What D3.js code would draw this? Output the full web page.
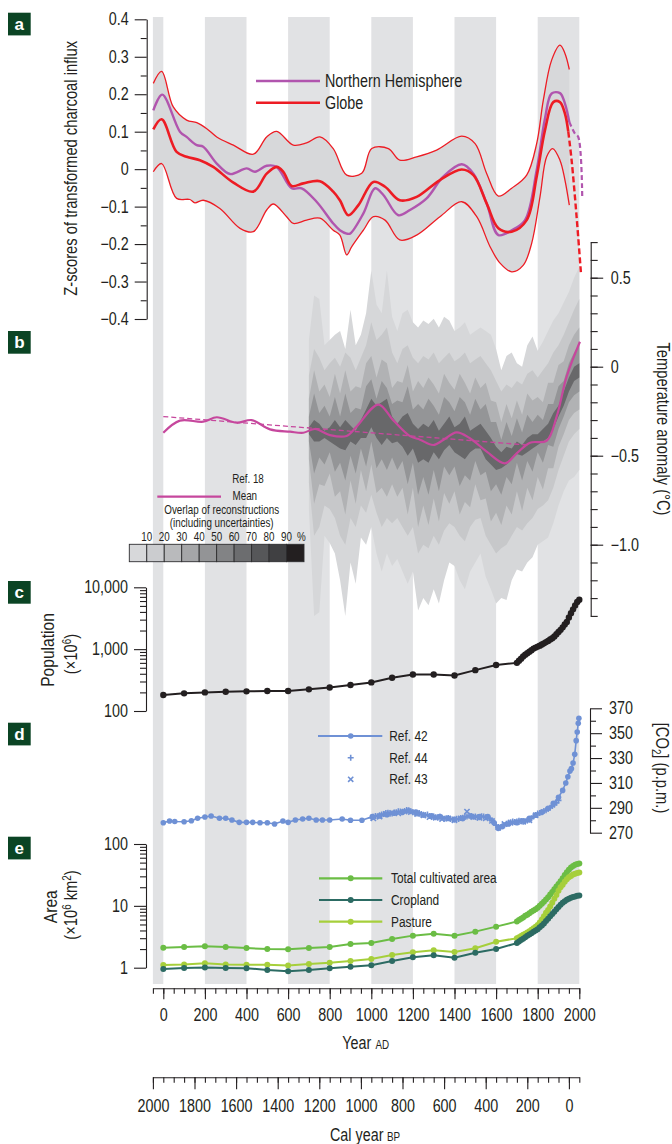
<!DOCTYPE html>
<html>
<head>
<meta charset="utf-8">
<script src="https://cdn.jsdelivr.net/npm/d3@7"></script>
<style>
  body { margin: 0; background: #fff; }
  svg text { font-family: "Liberation Sans", Arial, sans-serif; fill: #231f20; }
</style>
</head>
<body>
<svg id="chart" width="672" height="1144"></svg>
<script>
// ---------- data ----------
const stripeStarts = [-50, 200, 600, 1000, 1400, 1800];
const stripeEnds = [0, 400, 800, 1200, 1600, 2000];

// panel a: charcoal z-scores
const upperYears = [-48,-8,48,112,161,209,257,337,433,497,545,625,689,753,817,882,954,1002,1082,1137,1218,1314,1435,1499,1555,1611,1675,1747,1795,1827,1867,1907,1931,1952];
const upperZ = [0.229,0.261,0.166,0.131,0.124,0.108,0.086,0.064,0.04,0.086,0.101,0.064,0.07,0.086,0.055,-0.016,-0.011,0.055,0.055,0.024,0.033,0.051,0.088,0.068,-0.012,-0.072,-0.051,-0.016,0.068,0.184,0.291,0.331,0.309,0.266];
const lowerYears = [-48,-8,64,128,152,192,272,369,433,497,529,593,625,689,753,817,849,882,906,962,1010,1066,1137,1218,1330,1435,1507,1571,1619,1675,1731,1771,1811,1843,1872,1907,1931,1952];
const lowerZ = [-0.007,0.015,-0.078,-0.081,-0.09,-0.083,-0.105,-0.158,-0.167,-0.109,-0.093,-0.127,-0.145,-0.136,-0.131,-0.163,-0.176,-0.229,-0.207,-0.163,-0.127,-0.136,-0.189,-0.176,-0.127,-0.087,-0.127,-0.207,-0.251,-0.274,-0.256,-0.198,-0.074,0.033,0.055,0.024,-0.029,-0.096];
const globeYears = [-48,-8,64,112,176,240,337,433,497,545,577,617,673,753,817,849,890,938,1010,1066,1137,1218,1330,1435,1491,1555,1611,1675,1747,1795,1835,1875,1907,1931,1947];
const globeZ = [0.106,0.133,0.046,0.033,0.024,0.006,-0.036,-0.06,-0.012,0.006,-0.007,-0.045,-0.038,-0.032,-0.06,-0.083,-0.123,-0.096,-0.034,-0.047,-0.083,-0.074,-0.029,-0.001,-0.016,-0.092,-0.158,-0.167,-0.136,-0.02,0.104,0.179,0.179,0.148,0.1];
const globeDashYears = [1947, 1963, 1987, 2008];
const globeDashZ = [0.1, 0.024, -0.127, -0.278];
const nhYears = [-48,-5,80,112,161,192,257,321,401,441,497,545,617,665,737,817,849,882,898,962,1018,1058,1130,1186,1266,1346,1435,1491,1555,1611,1675,1739,1795,1835,1867,1907,1931,1952];
const nhZ = [0.157,0.199,0.1,0.086,0.064,0.06,0.015,-0.013,0.002,-0.007,0.009,0.006,-0.051,-0.051,-0.087,-0.145,-0.163,-0.172,-0.172,-0.118,-0.051,-0.069,-0.123,-0.109,-0.078,-0.02,0.013,-0.012,-0.092,-0.176,-0.163,-0.136,-0.003,0.135,0.202,0.203,0.175,0.126];
const nhDashYears = [1952, 1979, 1995, 2014];
const nhDashZ = [0.126, 0.095, 0.086, -0.074];

// panel b: temperature reconstructions (overlap levels, lightest to darkest)
const densityYears = [700,725,750,775,800,825,850,875,900,925,950,975,1000,1025,1050,1075,1100,1125,1150,1175,1200,1225,1250,1275,1300,1325,1350,1375,1400,1425,1450,1475,1500,1525,1550,1575,1600,1625,1650,1675,1700,1725,1750,1775,1800,1825,1850,1875,1900,1925,1950,1975,2000];
const b10Upper = [0.15,0.40,0.38,0.12,0.15,0.18,0.20,0.10,0.32,0.12,0.18,0.30,0.54,0.35,0.30,0.54,0.28,0.20,0.30,0.32,0.25,0.22,0.26,0.24,0.27,0.22,0.28,0.26,0.20,0.22,0.25,0.18,0.20,0.22,0.20,0.18,0.10,-0.02,0.06,0.08,0.02,0.00,0.12,0.17,0.09,0.14,0.20,0.26,0.30,0.36,0.42,0.50,0.56];
const b10Lower = [-0.80,-1.40,-1.38,-0.95,-0.99,-1.05,-1.20,-1.40,-1.10,-1.22,-0.96,-1.00,-0.90,-1.05,-1.15,-1.05,-1.12,-1.08,-1.15,-1.22,-1.15,-1.37,-1.30,-1.34,-1.25,-1.33,-1.20,-1.10,-1.12,-1.20,-1.25,-1.15,-1.10,-1.05,-1.18,-1.25,-1.33,-1.30,-1.31,-1.20,-1.14,-1.15,-1.10,-1.07,-1.00,-0.98,-0.96,-0.88,-0.78,-0.70,-0.64,-0.62,-0.58];
const b30Upper = [-0.05,0.10,0.05,-0.02,0.02,0.05,0.00,0.08,0.05,-0.02,0.05,0.12,0.25,0.15,0.18,0.22,0.08,0.02,0.10,0.12,0.05,0.02,0.06,0.04,0.08,0.02,0.05,0.08,0.03,0.05,0.08,0.02,0.04,0.06,0.02,-0.02,-0.08,-0.14,-0.10,-0.12,-0.08,-0.10,-0.04,-0.02,-0.06,-0.02,0.02,0.08,0.12,0.18,0.25,0.32,0.38];
const b30Lower = [-0.65,-0.95,-0.90,-0.78,-0.80,-0.85,-0.95,-1.00,-0.85,-0.90,-0.78,-0.82,-0.72,-0.82,-0.90,-0.85,-0.88,-0.85,-0.90,-0.95,-0.90,-1.05,-1.00,-1.02,-0.95,-1.00,-0.92,-0.88,-0.90,-0.95,-0.98,-0.90,-0.86,-0.85,-0.95,-1.00,-1.05,-1.02,-1.00,-0.95,-0.90,-0.92,-0.88,-0.85,-0.80,-0.78,-0.75,-0.68,-0.58,-0.50,-0.42,-0.38,-0.35];
const b50Upper = [-0.18,-0.02,-0.14,-0.10,-0.17,-0.04,-0.15,-0.02,-0.14,-0.11,-0.12,0.02,0.06,-0.06,0.04,0.02,-0.12,-0.08,-0.09,0.01,-0.14,-0.08,-0.12,-0.06,-0.10,-0.15,-0.04,-0.09,-0.13,-0.04,-0.09,-0.15,-0.06,-0.12,-0.09,-0.19,-0.20,-0.31,-0.21,-0.29,-0.19,-0.27,-0.15,-0.19,-0.17,-0.20,-0.09,-0.09,0.01,0.03,0.12,0.18,0.22];
const b50Lower = [-0.52,-0.77,-0.66,-0.67,-0.60,-0.73,-0.70,-0.83,-0.64,-0.77,-0.58,-0.70,-0.55,-0.71,-0.68,-0.73,-0.66,-0.73,-0.68,-0.83,-0.68,-0.90,-0.78,-0.89,-0.74,-0.87,-0.71,-0.77,-0.70,-0.83,-0.76,-0.79,-0.66,-0.75,-0.74,-0.87,-0.82,-0.89,-0.78,-0.83,-0.70,-0.81,-0.68,-0.75,-0.62,-0.69,-0.57,-0.57,-0.45,-0.38,-0.30,-0.26,-0.24];
const b70Upper = [-0.28,-0.15,-0.26,-0.22,-0.28,-0.17,-0.28,-0.15,-0.26,-0.23,-0.24,-0.11,-0.07,-0.18,-0.08,-0.12,-0.21,-0.19,-0.20,-0.11,-0.24,-0.21,-0.24,-0.18,-0.22,-0.27,-0.17,-0.20,-0.25,-0.17,-0.20,-0.27,-0.18,-0.24,-0.21,-0.31,-0.31,-0.41,-0.31,-0.39,-0.29,-0.37,-0.27,-0.31,-0.27,-0.30,-0.21,-0.21,-0.11,-0.08,0.02,0.08,0.12];
const b70Lower = [-0.42,-0.60,-0.51,-0.55,-0.48,-0.59,-0.54,-0.64,-0.50,-0.60,-0.46,-0.56,-0.42,-0.57,-0.52,-0.58,-0.51,-0.58,-0.53,-0.66,-0.54,-0.72,-0.62,-0.72,-0.58,-0.70,-0.56,-0.61,-0.56,-0.67,-0.61,-0.64,-0.53,-0.61,-0.59,-0.70,-0.66,-0.72,-0.62,-0.66,-0.54,-0.64,-0.53,-0.59,-0.48,-0.54,-0.44,-0.45,-0.35,-0.28,-0.20,-0.16,-0.14];
const b90Upper = [-0.34,-0.30,-0.32,-0.36,-0.34,-0.30,-0.34,-0.30,-0.33,-0.36,-0.30,-0.24,-0.18,-0.22,-0.20,-0.18,-0.28,-0.32,-0.28,-0.26,-0.32,-0.35,-0.32,-0.34,-0.30,-0.36,-0.32,-0.28,-0.34,-0.32,-0.28,-0.36,-0.34,-0.32,-0.36,-0.40,-0.45,-0.48,-0.45,-0.46,-0.42,-0.44,-0.40,-0.38,-0.38,-0.35,-0.32,-0.26,-0.22,-0.14,-0.06,0.00,0.02];
const b90Lower = [-0.38,-0.42,-0.42,-0.40,-0.42,-0.44,-0.46,-0.47,-0.42,-0.44,-0.40,-0.40,-0.34,-0.40,-0.44,-0.40,-0.43,-0.42,-0.45,-0.50,-0.46,-0.54,-0.52,-0.54,-0.48,-0.52,-0.47,-0.44,-0.48,-0.50,-0.52,-0.48,-0.46,-0.46,-0.52,-0.55,-0.58,-0.57,-0.55,-0.52,-0.49,-0.50,-0.48,-0.46,-0.44,-0.42,-0.40,-0.35,-0.28,-0.22,-0.14,-0.08,-0.06];
const meanYears = [0,80,192,257,353,425,513,609,673,729,801,881,929,1034,1105,1186,1234,1298,1346,1410,1474,1555,1643,1699,1763,1843,1891,1939,2003];
const meanT = [-0.371,-0.303,-0.309,-0.284,-0.315,-0.3,-0.352,-0.365,-0.371,-0.35,-0.384,-0.389,-0.337,-0.213,-0.3,-0.39,-0.41,-0.44,-0.412,-0.369,-0.402,-0.477,-0.543,-0.487,-0.427,-0.416,-0.281,-0.056,0.14];
const trendYears = [0, 1750];
const trendT = [-0.28, -0.44];
const overlapLabels = ["10","20","30","40","50","60","70","80","90","%"];
const overlapColors = ["#d7d8da","#cbcccf","#b9babc","#a5a6a8","#939496","#828385","#6c6d6f","#565759","#404042","#231f20"];

// panels c and e share these years
const histYears = [0,100,200,300,400,500,600,700,800,900,1000,1100,1200,1300,1400,1500,1600,1700,1710,1720,1730,1740,1750,1760,1770,1780,1790,1800,1810,1820,1830,1840,1850,1860,1870,1880,1890,1900,1910,1920,1930,1940,1950,1960,1970,1980,1990,2000];
const population = [181,193,200,205,208,210,210,224,240,263,290,344,390,390,375,458,554,600,650,700,760,810,860,910,960,1020,1060,1100,1140,1190,1240,1300,1360,1430,1500,1600,1740,1900,2050,2250,2500,2750,3250,3800,4400,5100,5800,6300];
const totalArea = [2.11,2.16,2.22,2.16,2.08,2.0,1.98,2.08,2.16,2.42,2.51,2.91,3.30,3.55,3.30,3.83,4.61,5.6,5.9,6.2,6.5,6.9,7.2,7.6,8.0,8.4,8.8,9.3,10.0,10.8,11.7,12.7,13.8,15.2,16.8,18.6,20.5,22.5,25,28,31.5,35,38.5,41.5,44,46,47.5,48.5];
const croplandArea = [0.95,0.99,1.01,0.99,0.98,0.92,0.88,0.92,0.98,1.04,1.1,1.28,1.47,1.59,1.45,1.75,2.0,2.5,2.65,2.8,2.95,3.1,3.3,3.45,3.6,3.8,4.0,4.2,4.5,4.8,5.2,5.7,6.2,6.8,7.4,8.0,8.8,9.6,10.4,11.2,11.9,12.5,13.0,13.5,13.9,14.2,14.5,14.7];
const pastureArea = [1.11,1.13,1.18,1.13,1.12,1.12,1.09,1.15,1.2,1.28,1.38,1.6,1.77,1.91,1.79,2.06,2.63,3.0,3.1,3.25,3.4,3.55,3.7,3.9,4.1,4.35,4.6,4.9,5.4,6.0,6.8,7.7,8.6,9.8,11.2,13,15,17.5,20,22,24.5,27,29,30.5,32,33,34,34.5];

// panel d: CO2
const ref42Years = [0,30,55,100,135,165,200,230,270,300,330,365,400,430,465,500,535,575,600,635,670,700,735,765,800,860,900,955,1005,1040,1075,1110,1150,1180,1215,1250,1290,1330,1370,1400,1440,1480,1520,1560,1590,1610,1630,1660,1700,1730,1760,1790,1820,1850,1875,1900,1920,1935,1945,1955,1962,1970,1978,1985,1990,1995,1998];
const ref42Ppm = [278,279.4,279,278.8,279.6,281.6,282.6,283.4,281.6,281.6,280.2,278.3,278.3,278.3,278,278,277,279.4,278.3,280.2,281,281.6,280.2,280.2,280.2,281,280,280,282.9,283.5,284.5,285.6,286.5,287.7,286.5,284.2,283.5,282.9,281.5,280.8,281.5,283.4,283,282.9,278,273.5,275,277,278,279.6,281.5,284,286.5,289.6,293.6,298.5,304,310,315,319.5,321.5,326,333,344,351,358,362];
const ref44Years = [1000,1010,1020,1030,1040,1050,1060,1070,1080,1090,1100,1110,1120,1130,1140,1150,1160,1170,1180,1190,1200,1210,1220,1230,1240,1250,1260,1270,1280,1290,1300,1310,1320,1330,1340,1350,1360,1370,1380,1390,1400,1410,1420,1430,1440,1450,1460,1470,1480,1490,1500,1510,1520,1530,1540,1550,1560,1570,1580,1590,1600,1610,1620,1630,1640,1650,1660,1670,1680,1690,1700,1710,1720,1730,1740,1750,1760,1770,1780,1790,1800,1810,1820,1830,1840,1850,1860,1870,1880,1890,1900];
const ref44Ppm = [282,282.8,283.5,283,284,284.6,285,285.8,286,285.2,285.5,286.3,286.5,287.2,287,286.4,287.5,288.2,288,287.3,286.5,286,285.5,285.9,285,284.4,284,284.6,283.5,283.1,283,282.4,282.5,282.9,282,281.3,281.5,281.9,281,280.6,280.5,281.2,281,281.8,282,282.7,283,283.6,283.5,282.8,283,282.3,282.5,283.2,283,282.4,282,281.2,280,278.2,276,274.6,274,275.2,276,277.1,278,278.4,279,278.6,279,279.7,279.5,278.8,279,279.8,280.5,281.6,283,284.2,285.5,285.8,286.5,287.4,288,289,290,291.4,292.5,294,296];
const ref43Years = [1010,1040,1070,1100,1130,1160,1190,1220,1250,1280,1310,1340,1370,1400,1430,1460,1490,1520,1550,1580,1610,1640,1670,1700,1730,1760,1790];
const ref43Ppm = [281.5,283,285,286,285.5,287,286.5,285,284,282.5,282,281,281.5,280,281.5,287,282.5,282,281.5,279.5,274.5,277,278,278.5,279,280,284];

// ---------- setup ----------
const INK = "#231f20";
const RED = "#ed1c24";
const NH = "#b155ae";
const MAGENTA = "#c6479d";
const BLUE = "#6f91d5";
const TOTAL = "#6bbd45";
const CROP = "#2c6b63";
const PASTURE = "#a6cf3b";
const SQUEEZE = 0.82;

const svg = d3.select("#chart");

const x = d3.scaleLinear().domain([-50, 2000]).range([152.9, 579.3]);
const xBP = d3.scaleLinear().domain([2000, -50]).range([152.9, 579.3]);
const yA = d3.scaleLinear().domain([-0.4, 0.4]).range([319, 19.3]);
const yB = d3.scaleLinear().domain([-1.4, 0.7]).range([615.9, 242.1]);
const yC = d3.scaleLog().domain([100, 10000]).range([711, 587.3]);
const yD = d3.scaleLinear().domain([270, 370]).range([832.7, 708.3]);
const yE = d3.scaleLog().domain([1, 100]).range([967.7, 844]);

const styleAxis = (g, size) => {
  g.attr("font-family", null).attr("font-size", null);
  g.selectAll("path.domain").attr("stroke", INK).attr("stroke-width", 1.1);
  g.selectAll("line").attr("stroke", INK).attr("stroke-width", 1.1);
  g.selectAll("text").attr("fill", INK).style("font-size", size + "px");
};

// background stripes
svg.append("g").selectAll("rect")
  .data(stripeStarts)
  .join("rect")
    .attr("x", d => x(d))
    .attr("width", (d, i) => x(stripeEnds[i]) - x(d))
    .attr("y", 17)
    .attr("height", 967)
    .attr("fill", "#e1e2e4");

// ---------- panel b density ----------
const bands = [
  [b10Upper, b10Lower, "#d6d7d9"],
  [b30Upper, b30Lower, "#c7c8ca"],
  [b50Upper, b50Lower, "#b1b2b4"],
  [b70Upper, b70Lower, "#949597"],
  [b90Upper, b90Lower, "#68686a"]
];
const densG = svg.append("g");
bands.forEach(([up, lo, color]) => {
  const area = d3.area()
    .x((d, i) => x(densityYears[i]))
    .y0((d, i) => yB(lo[i]))
    .y1((d, i) => yB(up[i]));
  densG.append("path").attr("d", area(densityYears)).attr("fill", color);
});

// ---------- panel a ----------
const lineA = d3.line().curve(d3.curveCatmullRom.alpha(0.5)).x(d => x(d[0])).y(d => yA(d[1]));
const upPts = d3.zip(upperYears, upperZ);
const loPts = d3.zip(lowerYears, lowerZ);
const loRev = loPts.slice().reverse();
svg.append("path")
  .attr("d", lineA(upPts) + "L" + lineA(loRev).slice(1) + "Z")
  .attr("fill", "#d7d8da");
svg.append("path").attr("d", lineA(upPts)).attr("fill", "none").attr("stroke", RED).attr("stroke-width", 1.3);
svg.append("path").attr("d", lineA(loPts)).attr("fill", "none").attr("stroke", RED).attr("stroke-width", 1.3);
svg.append("path").attr("d", lineA(d3.zip(nhYears, nhZ))).attr("fill", "none").attr("stroke", NH).attr("stroke-width", 2.4);
svg.append("path").attr("d", lineA(d3.zip(nhDashYears, nhDashZ))).attr("fill", "none").attr("stroke", NH).attr("stroke-width", 2.2).attr("stroke-dasharray", "5,3");
svg.append("path").attr("d", lineA(d3.zip(globeYears, globeZ))).attr("fill", "none").attr("stroke", RED).attr("stroke-width", 2.6);
svg.append("path").attr("d", lineA(d3.zip(globeDashYears, globeDashZ))).attr("fill", "none").attr("stroke", RED).attr("stroke-width", 2.4).attr("stroke-dasharray", "6,3");

// legend a
const legA = [["Northern Hemisphere", NH, 81], ["Globe", RED, 102.7]];
legA.forEach(([label, color, ly]) => {
  svg.append("line").attr("x1", 256).attr("x2", 320).attr("y1", ly).attr("y2", ly)
    .attr("stroke", color).attr("stroke-width", 2.4);
  svg.append("text").attr("x", 325).attr("y", ly + 6.3).style("font-size", "17.5px").text(label);
});

// axis a
const fmtA = d => d === 0 ? "0" : d3.format(".1f")(d).replace("-", "\u2212");
svg.append("g").attr("transform", "translate(146.7,0)")
  .call(d3.axisLeft(yA).tickValues([-0.4,-0.3,-0.2,-0.1,0,0.1,0.2,0.3,0.4]).tickSize(12).tickSizeOuter(0).tickPadding(6).tickFormat(fmtA))
  .call(g => styleAxis(g, 17.5));
svg.append("g").attr("transform", "translate(146.7,0)")
  .call(d3.axisLeft(yA).tickValues([-0.35,-0.25,-0.15,-0.05,0.05,0.15,0.25,0.35]).tickSize(6).tickFormat(""))
  .call(g => { styleAxis(g, 10); g.select(".domain").remove(); });
svg.append("text")
  .attr("transform", "translate(76.5,168.3) rotate(-90)")
  .attr("text-anchor", "middle").style("font-size", "18px")
  .text("Z-scores of transformed charcoal influx");

// ---------- panel b lines ----------
const lineB = d3.line().curve(d3.curveCatmullRom.alpha(0.5)).x(d => x(d[0])).y(d => yB(d[1]));
svg.append("path").attr("d", lineB(d3.zip(trendYears, trendT))).attr("fill", "none")
  .attr("stroke", MAGENTA).attr("stroke-width", 1.3).attr("stroke-dasharray", "5,3");
svg.append("path").attr("d", lineB(d3.zip(meanYears, meanT))).attr("fill", "none")
  .attr("stroke", MAGENTA).attr("stroke-width", 2.2);

// axis b (right)
const fmtB = d => d === 0 ? "0" : d3.format(".1f")(d).replace("-", "\u2212");
svg.append("g").attr("transform", "translate(590.7,0)")
  .call(d3.axisRight(yB).tickValues([0.5, 0, -0.5, -1.0]).tickSize(12.5).tickSizeOuter(0).tickPadding(7.5).tickFormat(fmtB))
  .call(g => styleAxis(g, 17.5));
svg.append("g").attr("transform", "translate(590.7,0)")
  .call(d3.axisRight(yB).tickValues(d3.range(-14, 8).map(d => d / 10)).tickSize(7).tickFormat(""))
  .call(g => { styleAxis(g, 10); g.select(".domain").remove(); });
svg.append("text")
  .attr("transform", "translate(657,429) rotate(90)")
  .attr("text-anchor", "middle").style("font-size", "18px")
  .text("Temperature anomaly (\u00b0C)");

// legend b
svg.append("text").attr("x", 248).attr("y", 483.3).attr("text-anchor", "middle").style("font-size", "12px").text("Ref. 18");
svg.append("line").attr("x1", 157.3).attr("x2", 221).attr("y1", 496.7).attr("y2", 496.7)
  .attr("stroke", MAGENTA).attr("stroke-width", 2.2);
svg.append("text").attr("x", 232.5).attr("y", 500.3).style("font-size", "12px").text("Mean");
svg.append("text").attr("x", 221.7).attr("y", 513.6).attr("text-anchor", "middle").style("font-size", "12px").text("Overlap of reconstructions");
svg.append("text").attr("x", 221.7).attr("y", 527.5).attr("text-anchor", "middle").style("font-size", "12px").text("(including uncertainties)");
const boxW = (304 - 129.3) / overlapColors.length;
svg.append("g").selectAll("rect")
  .data(overlapColors)
  .join("rect")
    .attr("x", (d, i) => 129.3 + i * boxW)
    .attr("y", 544.3)
    .attr("width", boxW)
    .attr("height", 17.4)
    .attr("fill", d => d)
    .attr("stroke", "#2d2d2f")
    .attr("stroke-width", 0.9);
svg.append("g").selectAll("text")
  .data(overlapLabels)
  .join("text")
    .attr("x", (d, i) => d === "%" ? 301.5 : 129.3 + (i + 1) * boxW)
    .attr("y", 541.5)
    .attr("text-anchor", "middle")
    .style("font-size", "12px")
    .text(d => d);

// ---------- panel c ----------
const lineC = d3.line().x((d, i) => x(histYears[i])).y(d => yC(d));
svg.append("path").attr("d", lineC(population)).attr("fill", "none").attr("stroke", INK).attr("stroke-width", 2);
svg.append("g").selectAll("circle")
  .data(population)
  .join("circle")
    .attr("cx", (d, i) => x(histYears[i]))
    .attr("cy", d => yC(d))
    .attr("r", 3.2)
    .attr("fill", INK);

const logMinor = (lo, hi) => {
  const out = [];
  for (let p = lo; p < hi; p *= 10) for (let k = 2; k <= 9; k++) out.push(p * k);
  return out;
};
svg.append("g").attr("transform", "translate(146,0)")
  .call(d3.axisLeft(yC).tickValues([100, 1000, 10000]).tickSize(12).tickSizeOuter(0).tickPadding(6).tickFormat(d3.format(",")))
  .call(g => styleAxis(g, 17.5));
svg.append("g").attr("transform", "translate(146,0)")
  .call(d3.axisLeft(yC).tickValues(logMinor(100, 10000)).tickSize(6).tickFormat(""))
  .call(g => { styleAxis(g, 10); g.select(".domain").remove(); });
svg.append("text")
  .attr("transform", "translate(53.5,650) rotate(-90)")
  .attr("text-anchor", "middle").style("font-size", "19px").text("Population");
const popUnit = svg.append("text")
  .attr("transform", "translate(76.5,654) rotate(-90)")
  .attr("text-anchor", "middle").style("font-size", "18px");
popUnit.append("tspan").text("(\u00d710");
popUnit.append("tspan").attr("dy", -6).style("font-size", "12px").text("6");
popUnit.append("tspan").attr("dy", 6).text(")");

// ---------- panel d ----------
const lineD = d3.line().x(d => x(d[0])).y(d => yD(d[1]));
const plusPath = "M-3,0H3M0,-3V3";
const crossPath = "M-2.6,-2.6L2.6,2.6M-2.6,2.6L2.6,-2.6";
svg.append("g").selectAll("path")
  .data(d3.zip(ref44Years, ref44Ppm))
  .join("path")
    .attr("transform", d => `translate(${x(d[0])},${yD(d[1])})`)
    .attr("d", plusPath)
    .attr("stroke", BLUE).attr("stroke-width", 1.6);
svg.append("g").selectAll("path")
  .data(d3.zip(ref43Years, ref43Ppm))
  .join("path")
    .attr("transform", d => `translate(${x(d[0])},${yD(d[1])})`)
    .attr("d", crossPath)
    .attr("stroke", BLUE).attr("stroke-width", 1.6);
svg.append("path").attr("d", lineD(d3.zip(ref42Years, ref42Ppm))).attr("fill", "none")
  .attr("stroke", BLUE).attr("stroke-width", 1.6);
svg.append("g").selectAll("circle")
  .data(d3.zip(ref42Years, ref42Ppm))
  .join("circle")
    .attr("cx", d => x(d[0]))
    .attr("cy", d => yD(d[1]))
    .attr("r", 2.8)
    .attr("fill", BLUE);

svg.append("g").attr("transform", "translate(590,0)")
  .call(d3.axisRight(yD).tickValues([270, 290, 310, 330, 350, 370]).tickSize(12).tickSizeOuter(0).tickPadding(7).tickFormat(d3.format("d")))
  .call(g => styleAxis(g, 17.5));
svg.append("g").attr("transform", "translate(590,0)")
  .call(d3.axisRight(yD).tickValues([280, 300, 320, 340, 360]).tickSize(6).tickFormat(""))
  .call(g => { styleAxis(g, 10); g.select(".domain").remove(); });
const co2Label = svg.append("text")
  .attr("transform", "translate(656,768) rotate(90)")
  .attr("text-anchor", "middle").style("font-size", "18px");
co2Label.append("tspan").text("[CO");
co2Label.append("tspan").attr("dy", 4).style("font-size", "12px").text("2");
co2Label.append("tspan").attr("dy", -4).text("] (p.p.m.)");

// legend d
svg.append("line").attr("x1", 318).attr("x2", 382.3).attr("y1", 736).attr("y2", 736).attr("stroke", BLUE).attr("stroke-width", 1.8);
svg.append("circle").attr("cx", 350.7).attr("cy", 736).attr("r", 2.8).attr("fill", BLUE);
svg.append("path").attr("transform", "translate(350.7,757.7)").attr("d", plusPath).attr("stroke", BLUE).attr("stroke-width", 1.6);
svg.append("path").attr("transform", "translate(350.7,779.3)").attr("d", crossPath).attr("stroke", BLUE).attr("stroke-width", 1.6);
[["Ref. 42", 736], ["Ref. 44", 757.7], ["Ref. 43", 779.3]].forEach(([t, ly]) => {
  svg.append("text").attr("x", 389.3).attr("y", ly + 5.2).style("font-size", "14.5px").text(t);
});

// ---------- panel e ----------
const areaSeries = [
  [totalArea, TOTAL, "Total cultivated area", 878.3],
  [pastureArea, PASTURE, "Pasture", 921.7],
  [croplandArea, CROP, "Cropland", 900]
];
const lineE = d3.line().x((d, i) => x(histYears[i])).y(d => yE(d));
areaSeries.forEach(([vals, color, label, ly]) => {
  svg.append("path").attr("d", lineE(vals)).attr("fill", "none").attr("stroke", color).attr("stroke-width", 2);
  svg.append("g").selectAll("circle")
    .data(vals)
    .join("circle")
      .attr("cx", (d, i) => x(histYears[i]))
      .attr("cy", d => yE(d))
      .attr("r", 3)
      .attr("fill", color);
  svg.append("line").attr("x1", 319).attr("x2", 382.3).attr("y1", ly).attr("y2", ly).attr("stroke", color).attr("stroke-width", 2.2);
  svg.append("circle").attr("cx", 350.7).attr("cy", ly).attr("r", 3).attr("fill", color);
  svg.append("text").attr("x", 391).attr("y", ly + 5.2).style("font-size", "14.5px").text(label);
});

svg.append("g").attr("transform", "translate(146,0)")
  .call(d3.axisLeft(yE).tickValues([1, 10, 100]).tickSize(12).tickSizeOuter(0).tickPadding(6).tickFormat(d3.format("d")))
  .call(g => styleAxis(g, 17.5));
svg.append("g").attr("transform", "translate(146,0)")
  .call(d3.axisLeft(yE).tickValues(logMinor(1, 100)).tickSize(6).tickFormat(""))
  .call(g => { styleAxis(g, 10); g.select(".domain").remove(); });
svg.append("text")
  .attr("transform", "translate(56.5,906.7) rotate(-90)")
  .attr("text-anchor", "middle").style("font-size", "19px").text("Area");
const areaUnit = svg.append("text")
  .attr("transform", "translate(77,905) rotate(-90)")
  .attr("text-anchor", "middle").style("font-size", "18px");
areaUnit.append("tspan").text("(\u00d710");
areaUnit.append("tspan").attr("dy", -6).style("font-size", "12px").text("6");
areaUnit.append("tspan").attr("dy", 6).text(" km");
areaUnit.append("tspan").attr("dy", -6).style("font-size", "12px").text("2");
areaUnit.append("tspan").attr("dy", 6).text(")");

// ---------- bottom axes ----------
const adLabels = [0, 200, 400, 600, 800, 1000, 1200, 1400, 1600, 1800, 2000];
const bpLabels = [2000, 1800, 1600, 1400, 1200, 1000, 800, 600, 400, 200, 0];
const minorStep = d3.range(-50, 2001, 50);

svg.append("g").attr("transform", "translate(0,988.3)")
  .call(d3.axisBottom(x).tickValues(adLabels).tickSize(11).tickSizeOuter(0).tickPadding(9.5).tickFormat(d3.format("d")))
  .call(g => styleAxis(g, 17.5));
svg.append("g").attr("transform", "translate(0,988.3)")
  .call(d3.axisBottom(x).tickValues(minorStep).tickSize(5.5).tickFormat(""))
  .call(g => { styleAxis(g, 10); g.select(".domain").remove(); });
svg.append("text").attr("x", 342.3).attr("y", 1049.5).style("font-size", "17.5px").text("Year");
svg.append("text").attr("x", 375.5).attr("y", 1049.5).style("font-size", "12px").text("AD");

svg.append("g").attr("transform", "translate(0,1077.3)")
  .call(d3.axisBottom(xBP).tickValues(bpLabels).tickSize(12).tickSizeOuter(0).tickPadding(10.5).tickFormat(d3.format("d")))
  .call(g => styleAxis(g, 17.5));
svg.append("g").attr("transform", "translate(0,1077.3)")
  .call(d3.axisBottom(xBP).tickValues(minorStep).tickSize(5.5).tickFormat(""))
  .call(g => { styleAxis(g, 10); g.select(".domain").remove(); });
svg.append("text").attr("x", 330).attr("y", 1141).style("font-size", "17.5px").text("Cal year");
svg.append("text").attr("x", 387).attr("y", 1141).style("font-size", "12px").text("BP");

// condensed look: squeeze every text along its baseline (no narrow face installed)
svg.selectAll("text").each(function () {
  const t = d3.select(this);
  const x0 = +(t.attr("x") || 0);
  t.attr("x", x0 / SQUEEZE);
  const tr = t.attr("transform");
  t.attr("transform", (tr ? tr + " " : "") + `scale(${SQUEEZE},1)`);
});

// ---------- panel letters ----------
const panelLetters = ["a", "b", "c", "d", "e"];
const panelTops = [12.7, 331, 581, 722.7, 836.7];
const letterG = svg.append("g").selectAll("g")
  .data(panelLetters)
  .join("g")
    .attr("transform", (d, i) => `translate(8,${panelTops[i]})`);
letterG.append("rect").attr("width", 22.7).attr("height", 22.7).attr("fill", "#0b4424");
letterG.append("text")
  .attr("x", 11.35).attr("y", 17)
  .attr("text-anchor", "middle")
  .style("font-weight", "bold")
  .style("font-size", "17px")
  .style("fill", "#fff")
  .text(d => d);
</script>
</body>
</html>
